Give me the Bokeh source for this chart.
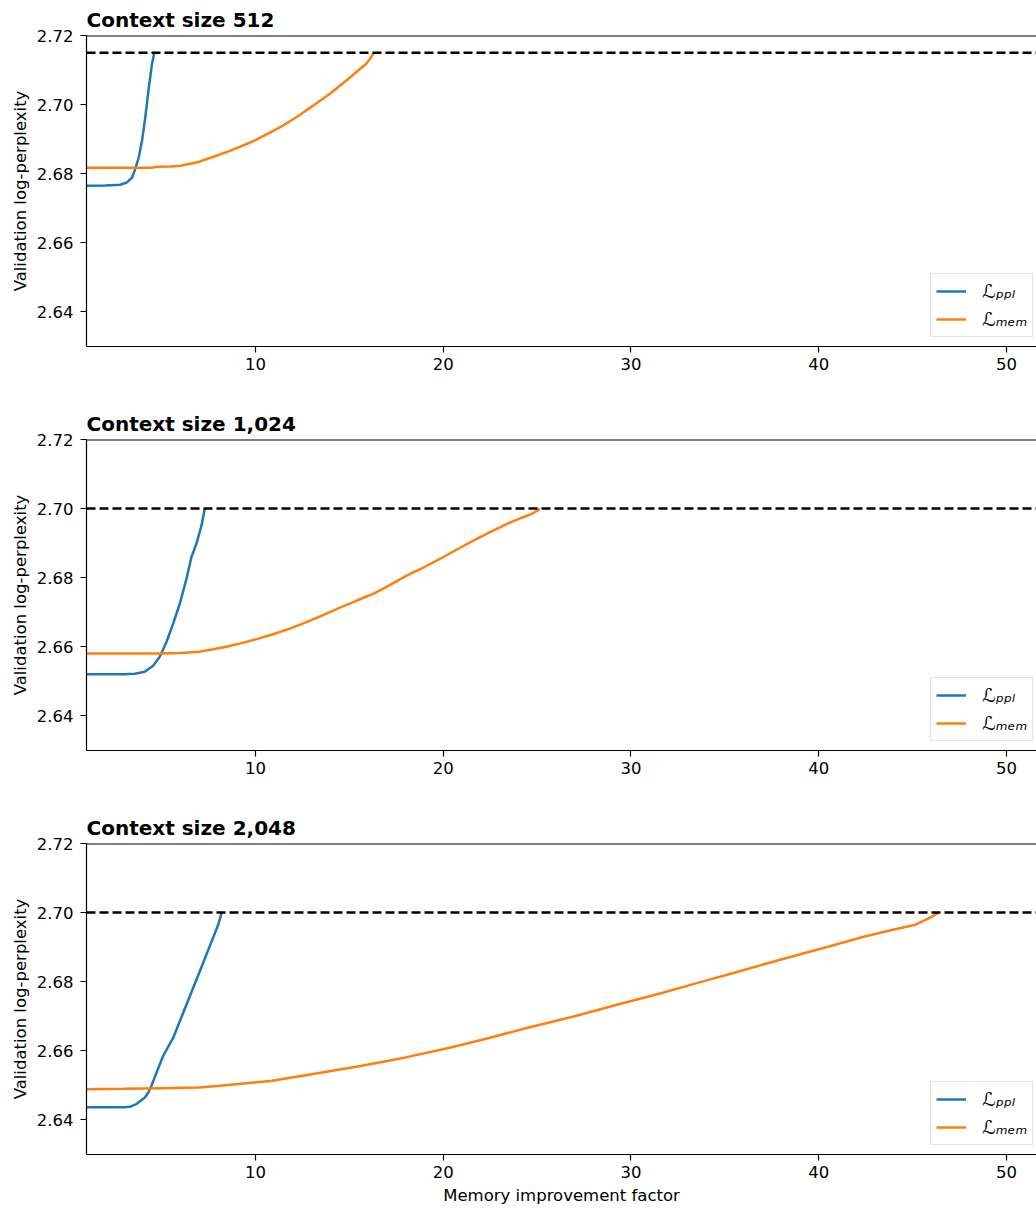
from bokeh.plotting import figure
from bokeh.layouts import column
from bokeh.models import (Range1d, FixedTicker, Span, Legend, LegendItem,
                          PrintfTickFormatter)
from bokeh.embed import file_html
from bokeh.resources import INLINE

# ---------------- data ----------------
titles = ["Context size 512", "Context size 1,024", "Context size 2,048"]
thresholds = [2.715, 2.700, 2.700]
x_ticks = [10, 20, 30, 40, 50]
y_ticks = [2.64, 2.66, 2.68, 2.70, 2.72]
series_labels = ["ℒₚₚₗ", "ℒₘₑₘ"]

# context 512
ppl_x_512 = [1.0, 2.0, 2.8, 3.16, 3.43, 3.6, 3.78, 3.96, 4.13, 4.31, 4.49, 4.61]
ppl_y_512 = [2.6765, 2.6766, 2.6768, 2.6775, 2.6789, 2.6814, 2.6847, 2.6896,
             2.6963, 2.7045, 2.7118, 2.7150]
mem_x_512 = [1.0, 2.0, 3.0, 4.0, 4.5, 4.7, 5.5, 6.0, 6.9, 7.76, 8.67, 9.53,
             10.0, 11.3, 12.2, 13.07, 14.0, 14.84, 15.5, 15.9, 16.1, 16.3]
mem_y_512 = [2.6817, 2.6817, 2.6817, 2.6817, 2.6817, 2.6820, 2.6821, 2.6823,
             2.6833, 2.6849, 2.6867, 2.6886, 2.6897, 2.6934, 2.6964, 2.6997,
             2.7033, 2.7070, 2.7100, 2.7118, 2.7132, 2.7150]

# context 1,024
ppl_x_1024 = [1.0, 2.0, 3.0, 3.57, 4.1, 4.55, 4.9, 5.26, 5.62, 5.97, 6.33,
              6.59, 6.86, 7.13, 7.3]
ppl_y_1024 = [2.6521, 2.6521, 2.6521, 2.6522, 2.6528, 2.6545, 2.6571, 2.6614,
              2.6668, 2.6725, 2.6798, 2.6860, 2.6899, 2.6952, 2.7000]
mem_x_1024 = [1.0, 3.0, 5.0, 6.0, 7.0, 7.76, 8.5, 9.2, 10.1, 10.98, 11.9, 12.75,
              13.6, 14.53, 15.4, 16.3, 17.2, 18.08, 19.0, 19.85, 20.7, 21.63,
              22.5, 23.4, 24.1, 24.65, 24.95, 25.15]
mem_y_1024 = [2.6581, 2.6581, 2.6581, 2.6582, 2.6586, 2.6593, 2.6601, 2.6610,
              2.6623, 2.6637, 2.6654, 2.6672, 2.6692, 2.6714, 2.6734, 2.6754,
              2.6780, 2.6807, 2.6831, 2.6855, 2.6881, 2.6908, 2.6932, 2.6956,
              2.6972, 2.6983, 2.6992, 2.7000]

# context 2,048
ppl_x_2048 = [1.0, 2.0, 3.0, 3.3, 3.66, 3.9, 4.11, 4.3, 4.46, 4.73, 5.08, 5.62,
              6.15, 6.68, 7.21, 7.66, 8.01, 8.2]
ppl_y_2048 = [2.6437, 2.6437, 2.6437, 2.6438, 2.6446, 2.6456, 2.6465, 2.6480,
              2.6499, 2.6537, 2.6585, 2.6638, 2.6710, 2.6782, 2.6854, 2.6916,
              2.6964, 2.7000]
mem_x_2048 = [1.0, 3.0, 5.0, 7.0, 8.13, 9.5, 10.8, 13.0, 15.6, 18.0, 20.35,
              22.5, 24.5, 27.0, 29.3, 31.5, 33.5, 35.7, 37.9, 40.2, 42.4, 44.0,
              45.1, 45.8, 46.4]
mem_y_2048 = [2.6489, 2.6490, 2.6492, 2.6494, 2.6499, 2.6506, 2.6513, 2.6532,
              2.6556, 2.6581, 2.6609, 2.6638, 2.6667, 2.6700, 2.6734, 2.6765,
              2.6796, 2.6829, 2.6863, 2.6897, 2.6930, 2.6951, 2.6964, 2.6982,
              2.7000]

panels = [
    (ppl_x_512, ppl_y_512, mem_x_512, mem_y_512),
    (ppl_x_1024, ppl_y_1024, mem_x_1024, mem_y_1024),
    (ppl_x_2048, ppl_y_2048, mem_x_2048, mem_y_2048),
]

X_MIN, X_MAX = 1, 51.6
Y_MIN, Y_MAX = 2.63, 2.72

BLUE = "#1f77b4"
ORANGE = "#ff7f0e"
FONT = "DejaVu Sans"
TICK_FS = "16.5px"


def make_panel(i, height, border_bottom, xlabel):
    p = figure(width=1036, height=height, output_backend="svg",
               toolbar_location=None,
               x_range=Range1d(X_MIN, X_MAX), y_range=Range1d(Y_MIN, Y_MAX),
               min_border_left=86, min_border_right=0,
               min_border_top=35, min_border_bottom=border_bottom,
               title=titles[i])
    p.background_fill_color = "white"
    p.border_fill_color = "white"
    p.grid.visible = False
    p.outline_line_color = None

    p.title.text_font = FONT
    p.title.text_font_size = "20px"
    p.title.text_font_style = "bold"
    p.title.text_color = "black"
    p.title.align = "left"
    p.title.offset = 0
    p.title.standoff = 7

    for ax in (p.xaxis[0], p.yaxis[0]):
        ax.axis_line_color = "black"
        ax.axis_line_width = 1.2
        ax.major_tick_line_color = "black"
        ax.major_tick_line_width = 1.2
        ax.major_tick_out = 6
        ax.major_tick_in = 0
        ax.minor_tick_line_color = None
        ax.major_label_text_font = FONT
        ax.major_label_text_font_size = TICK_FS
        ax.major_label_text_color = "black"
        ax.major_label_standoff = 7
        ax.axis_label_text_font = FONT
        ax.axis_label_text_font_size = TICK_FS
        ax.axis_label_text_font_style = "normal"
        ax.axis_label_text_color = "black"

    p.xaxis[0].ticker = FixedTicker(ticks=x_ticks)
    p.xaxis[0].major_label_standoff = 5
    p.yaxis[0].ticker = FixedTicker(ticks=y_ticks)
    p.yaxis[0].formatter = PrintfTickFormatter(format="%.2f")
    p.yaxis[0].axis_label = "Validation log-perplexity"
    p.yaxis[0].axis_label_standoff = 4
    if xlabel:
        p.xaxis[0].axis_label = xlabel
        p.xaxis[0].axis_label_standoff = 5

    # top spine (right spine is cropped off in the reference)
    p.add_layout(Span(location=Y_MAX, dimension="width",
                      line_color="black", line_width=2))

    px, py, mx, my = panels[i]
    p.add_layout(Span(location=thresholds[i], dimension="width",
                      line_color="black", line_width=2.5, line_dash="9 4"))
    r1 = p.line(px, py, line_color=BLUE, line_width=2.5)
    r2 = p.line(mx, my, line_color=ORANGE, line_width=2.5)

    legend = Legend(items=[LegendItem(label=series_labels[0], renderers=[r1]),
                           LegendItem(label=series_labels[1], renderers=[r2])],
                    location=(844, 9))
    legend.margin = 0
    legend.padding = 5
    legend.spacing = 4
    legend.glyph_width = 30
    legend.glyph_height = 24
    legend.label_height = 24
    legend.label_standoff = 16
    legend.label_text_font = FONT
    legend.label_text_font_size = "19px"
    legend.label_text_font_style = "italic"
    legend.label_text_color = "black"
    legend.border_line_color = "#cccccc"
    legend.border_line_width = 1
    legend.background_fill_color = "white"
    legend.background_fill_alpha = 0.8
    p.add_layout(legend)
    return p


p1 = make_panel(0, 404, 58, None)
p2 = make_panel(1, 404, 58, None)
p3 = make_panel(2, 401, 55, "Memory improvement factor")

p = column(p1, p2, p3, spacing=0)

open("out.html", "w").write(file_html(p, INLINE))
